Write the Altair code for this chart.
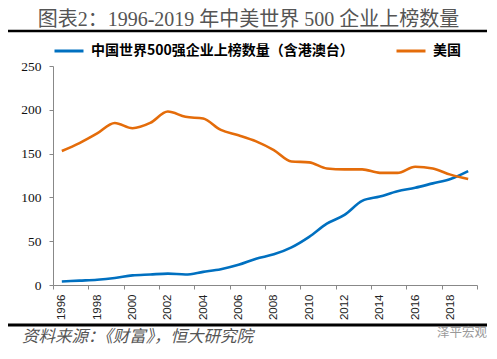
import altair as alt
import pandas as pd

years = list(range(1996, 2020))
china = [4, 5, 6, 8, 11, 12, 13, 12, 15, 18, 23, 30, 35, 43, 55, 70, 80, 96, 101, 107, 111, 116, 121, 130]
usa = [153, 162, 173, 185, 179, 185, 198, 192, 190, 177, 171, 164, 154, 141, 140, 133, 132, 132, 128, 128, 135, 133, 126, 121]
series_names = ["中国世界500强企业上榜数量（含港澳台）", "美国"]
series_colors = ["#0070C0", "#E46C0A"]
y_ticks = [0, 50, 100, 150, 200, 250]

title_text = "图表2：1996-2019 年中美世界 500 企业上榜数量"
source_text = "资料来源：《财富》，恒大研究院"
mark_text = "泽平宏观"

rows = []
for y, c, u in zip(years, china, usa):
    rows.append({"year": y, "value": c, "series": series_names[0]})
    rows.append({"year": y, "value": u, "series": series_names[1]})
df = pd.DataFrame(rows)

tick_vals = [y - 0.5 for y in years[::2]] + [years[-1] + 0.5]

lines = alt.Chart(df).mark_line(interpolate="monotone", strokeWidth=2.6).encode(
    x=alt.X("year:Q",
            scale=alt.Scale(domain=[years[0] - 0.5, years[-1] + 0.5], nice=False, zero=False),
            axis=alt.Axis(values=tick_vals, title=None, labelAngle=-90,
                          labelExpr="datum.value < 2019 ? toString(datum.value + 0.5) : ''",
                          labelOffset=8.8, labelFlush=False, labelOverlap=False, labelBound=False,
                          labelFont="Liberation Sans", labelFontSize=11.5, labelColor="#222",
                          tickSize=4, labelPadding=5, domainColor="#888", tickColor="#888",
                          grid=False)),
    y=alt.Y("value:Q", scale=alt.Scale(domain=[0, 250], nice=False),
            axis=alt.Axis(values=y_ticks, title=None, labelFont="Liberation Serif",
                          labelFontSize=13.5, labelColor="#111", tickSize=4, labelPadding=8,
                          domainColor="#888", tickColor="#888", grid=False)),
    color=alt.Color("series:N",
                    scale=alt.Scale(domain=series_names, range=series_colors),
                    sort=series_names,
                    legend=alt.Legend(title=None, orient="none", legendX=0, legendY=-31,
                                      direction="horizontal", symbolType="stroke",
                                      symbolSize=841, symbolStrokeWidth=3,
                                      labelFont="Noto Sans CJK SC", labelFontSize=14,
                                      labelFontWeight="bold", labelColor="black",
                                      columnPadding=36, labelOffset=6, labelLimit=400)),
)

one = pd.DataFrame({"t": [title_text], "s": [source_text], "m": [mark_text]})

title = alt.Chart(one).mark_text(font="Liberation Serif, Noto Sans CJK SC", fontSize=20,
                                 color="#555", align="center", baseline="middle").encode(
    text="t:N", x=alt.value(195.5), y=alt.value(-46))
top_rule = alt.Chart(one).mark_rule(color="black", strokeWidth=2.6).encode(
    x=alt.value(-45), x2=alt.value(437), y=alt.value(-35))
bottom_rule = alt.Chart(one).mark_rule(color="black", strokeWidth=3).encode(
    x=alt.value(-45), x2=alt.value(437), y=alt.value(259))
source = alt.Chart(one).mark_text(font="Noto Sans CJK SC", fontSize=16.5, fontStyle="italic",
                                  color="#555", align="left", baseline="middle").encode(
    text="s:N", x=alt.value(-31), y=alt.value(271))
wm = alt.Chart(one).mark_text(font="Noto Sans CJK SC", fontSize=12.5,
                              color="#999", align="left", baseline="middle").encode(
    text="m:N", x=alt.value(384), y=alt.value(267))

chart = alt.layer(lines, title, top_rule, bottom_rule, source, wm).properties(
    width=424, height=219,
    padding={"left": 45, "top": 58, "right": 10, "bottom": 62},
    autosize=alt.AutoSizeParams(type="none"),
    background="white",
).configure_view(stroke=None)

chart.save("out.html", embed_options={"renderer": "svg", "actions": False})
